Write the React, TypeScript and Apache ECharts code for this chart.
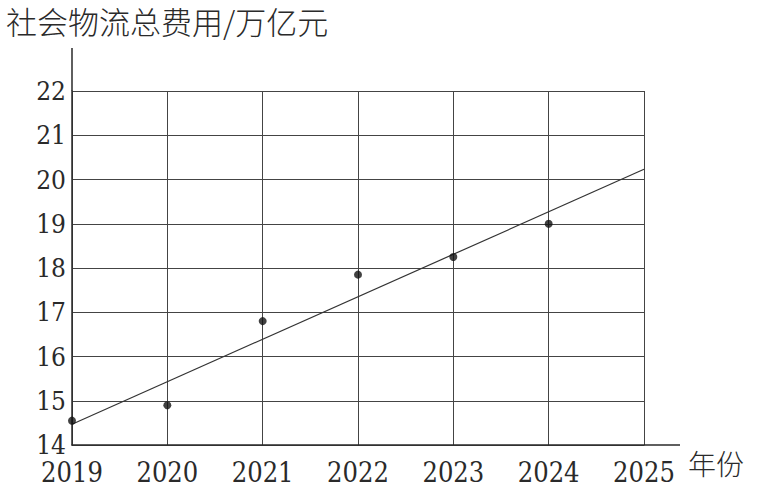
import React, { useEffect, useRef } from "react";
import * as echarts from "echarts";

const years = [2019, 2020, 2021, 2022, 2023, 2024];
const costs = [14.55, 14.9, 16.8, 17.85, 18.25, 19.0];
const trendYears = [2019, 2025];
const trendValues = [14.47, 20.23];
const xRange = [2019, 2025];
const yRange = [14, 22];
const yTitle = "社会物流总费用/万亿元";
const xTitle = "年份";

const cjk = "Noto Sans CJK SC";
const serif = "DejaVu Serif Condensed";
const ink = "#2a2a2a";

export default function App() {
  const ref = useRef<HTMLDivElement>(null);
  useEffect(() => {
    if (!ref.current) return;
    const chart = echarts.init(ref.current, null, { renderer: "svg" });
    chart.setOption({
      animation: false,
      backgroundColor: "#ffffff",
      title: {
        text: yTitle,
        left: 6,
        top: 0,
        padding: 0,
        textStyle: { fontFamily: cjk, fontSize: 31, fontWeight: 300, color: ink, lineHeight: 40 },
      },
      grid: { left: 72, right: 129, top: 91, bottom: 51 },
      xAxis: {
        type: "value",
        min: xRange[0],
        max: xRange[1],
        interval: 1,
        name: xTitle,
        nameLocation: "end",
        nameGap: 44,
        nameTextStyle: {
          fontFamily: cjk,
          fontSize: 28,
          fontWeight: 300,
          color: ink,
          verticalAlign: "top",
          padding: [4, 0, 0, 0],
        },
        axisLine: { show: true, lineStyle: { color: ink, width: 1.5 } },
        axisTick: { show: false },
        splitLine: { show: true, lineStyle: { color: "#444", width: 1 } },
        axisLabel: {
          fontFamily: serif,
          fontSize: 27,
          lineHeight: 24,
          color: ink,
          margin: 15,
          formatter: (v: number) => String(v),
        },
      },
      yAxis: {
        type: "value",
        min: yRange[0],
        max: yRange[1],
        interval: 1,
        axisLine: { show: true, lineStyle: { color: ink, width: 1.5 } },
        axisTick: { show: false },
        splitLine: { show: true, lineStyle: { color: "#444", width: 1 } },
        axisLabel: { fontFamily: serif, fontSize: 26, lineHeight: 22, color: ink, margin: 6 },
      },
      series: [
        {
          type: "line",
          data: trendYears.map((y, i) => [y, trendValues[i]]),
          showSymbol: false,
          symbol: "none",
          lineStyle: { color: "#333", width: 1.2 },
          z: 3,
        },
        {
          type: "scatter",
          data: years.map((y, i) => [y, costs[i]]),
          symbolSize: 8,
          itemStyle: { color: "#111" },
          z: 4,
        },
      ],
    });
    const origin = chart.convertToPixel({ gridIndex: 0 }, [xRange[0], yRange[0]]) as number[];
    const topLeft = chart.convertToPixel({ gridIndex: 0 }, [xRange[0], yRange[1]]) as number[];
    const bottomRight = chart.convertToPixel({ gridIndex: 0 }, [xRange[1], yRange[0]]) as number[];
    chart.setOption({
      graphic: [
        {
          type: "line",
          shape: { x1: topLeft[0], y1: topLeft[1], x2: topLeft[0], y2: topLeft[1] - 43 },
          style: { stroke: ink, lineWidth: 1.5 },
        },
        {
          type: "line",
          shape: { x1: bottomRight[0], y1: origin[1], x2: bottomRight[0] + 36, y2: origin[1] },
          style: { stroke: ink, lineWidth: 1.5 },
        },
      ],
    });
    return () => chart.dispose();
  }, []);
  return (
    <div
      ref={ref}
      style={{ position: "fixed", left: 0, top: 0, width: 773, height: 496 }}
    />
  );
}
